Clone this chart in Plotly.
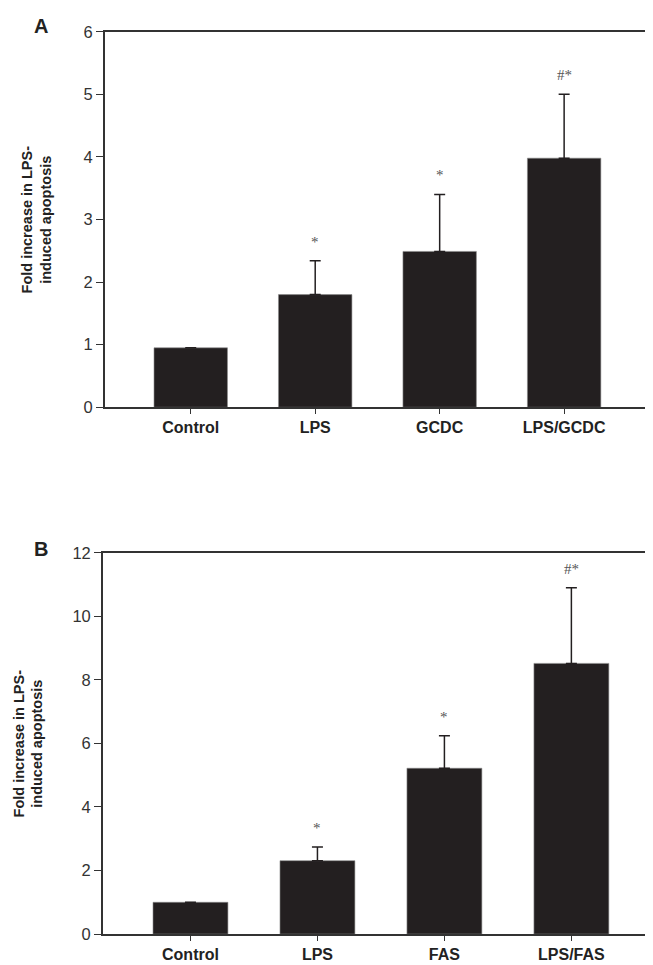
import plotly.graph_objects as go

categories_a = ["Control", "LPS", "GCDC", "LPS/GCDC"]
values_a = [0.95, 1.80, 2.49, 3.98]
errors_a = [0.0, 0.54, 0.91, 1.02]
marks_a = ["", "*", "*", "#*"]

categories_b = ["Control", "LPS", "FAS", "LPS/FAS"]
values_b = [1.0, 2.31, 5.22, 8.52]
errors_b = [0.0, 0.43, 1.02, 2.38]
marks_b = ["", "*", "*", "#*"]

y_ticks_a = [0, 1, 2, 3, 4, 5, 6]
y_ticks_b = [0, 2, 4, 6, 8, 10, 12]

ytitle = "Fold increase in LPS-<br>induced apoptosis"
BAR = "#231f20"
AX = "#333333"
SANS = "Liberation Sans, Arial, sans-serif"

W, H = 653, 965
dom_a_x = [97 / W, 643 / W]
dom_a_y = [1 - 397.7 / H, 1 - 15 / H]
dom_b_x = [95 / W, 652 / W]
dom_b_y = [1 - 934.5 / H, 1 - 546 / H]

fig = go.Figure()

def add_panel(cats, vals, errs, xa, ya):
    fig.add_trace(go.Bar(
        x=cats, y=vals, xaxis=xa, yaxis=ya, width=0.59,
        marker=dict(color=BAR, line=dict(color="#8a8a8a", width=0.6)),
        error_y=dict(type="data", array=errs, arrayminus=[0] * len(errs),
                     symmetric=False, color=BAR, thickness=1.5, width=5.5,
                     visible=True),
        showlegend=False,
    ))

add_panel(categories_a, values_a, errors_a, "x", "y")
add_panel(categories_b, values_b, errors_b, "x2", "y2")

annotations = []
for cats, vals, errs, marks, xr, yr in [
    (categories_a, values_a, errors_a, marks_a, "x", "y"),
    (categories_b, values_b, errors_b, marks_b, "x2", "y2"),
]:
    for c, v, e, m in zip(cats, vals, errs, marks):
        if m:
            annotations.append(dict(
                x=c, y=v + e, xref=xr, yref=yr, text=m, showarrow=False,
                yanchor="bottom", yshift=9,
                font=dict(family="Liberation Serif, serif", size=15, color="#555555"),
            ))

# panel letters
for letter, ypx in [("A", 9), ("B", 542)]:
    annotations.append(dict(x=33 / W, y=1 - ypx / H, xref="paper", yref="paper",
                            text="<b>%s</b>" % letter, showarrow=False,
                            xanchor="center", yanchor="middle",
                            font=dict(family=SANS, size=20, color="#222")))

# y-axis titles
for xpx, dom in [(29, dom_a_y), (20, dom_b_y)]:
    annotations.append(dict(x=xpx / W, y=(dom[0] + dom[1]) / 2, xref="paper", yref="paper",
                            text="<b>" + ytitle + "</b>", showarrow=False, textangle=-90,
                            xanchor="center", yanchor="middle", align="center",
                            font=dict(family=SANS, size=14.5, color="#222")))

common_x = dict(showline=True, linecolor=AX, linewidth=1.5, mirror=True,
                ticks="outside", ticklen=5, tickcolor=AX, tickwidth=1.2,
                tickfont=dict(family=SANS, size=16, color="#222"),
                showgrid=False, zeroline=False, range=[-0.69, 3.69])
common_y = dict(showline=True, linecolor=AX, linewidth=1.5, mirror=True,
                ticks="outside", ticklen=7, tickcolor=AX, tickwidth=1.2,
                tickfont=dict(family=SANS, size=16.5, color="#333"),
                showgrid=False, zeroline=False)

fig.update_layout(
    width=W, height=H,
    margin=dict(l=0, r=0, t=0, b=0),
    paper_bgcolor="white", plot_bgcolor="white",
    xaxis=dict(common_x, domain=dom_a_x, anchor="y",
               tickvals=categories_a, ticktext=["<b>%s</b>" % c for c in categories_a]),
    yaxis=dict(common_y, domain=dom_a_y, anchor="x",
               range=[0, 6], tickvals=y_ticks_a),
    xaxis2=dict(common_x, domain=dom_b_x, anchor="y2",
                tickvals=categories_b, ticktext=["<b>%s</b>" % c for c in categories_b]),
    yaxis2=dict(common_y, domain=dom_b_y, anchor="x2",
                range=[0, 12], tickvals=y_ticks_b),
    annotations=annotations,
)

fig.write_html("out.html")
